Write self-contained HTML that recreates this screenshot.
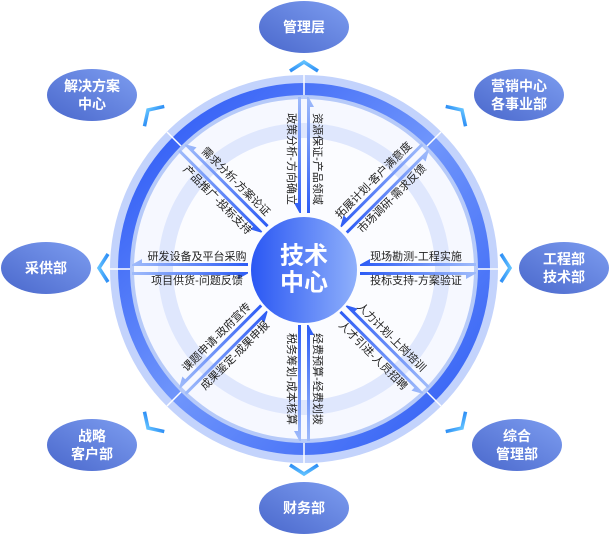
<!DOCTYPE html>
<html><head><meta charset="utf-8"><style>
html,body{margin:0;padding:0;background:#fff;width:610px;height:534px;overflow:hidden}
svg{display:block}
text{font-family:"Liberation Sans","Noto Sans CJK SC",sans-serif}
.t{font-size:11px;fill:#222;text-anchor:middle;dominant-baseline:central}
.n{font-size:14px;font-weight:bold;fill:#fff;text-anchor:middle;dominant-baseline:central}
</style></head><body>
<svg width="610" height="534" viewBox="0 0 610 534" xmlns="http://www.w3.org/2000/svg">
<defs>
<linearGradient id="ring" x1="0" y1="0" x2="1" y2="1"><stop offset="0" stop-color="#2451f5"/><stop offset="0.5" stop-color="#6f95fb"/><stop offset="1" stop-color="#2a58f4"/></linearGradient>
<linearGradient id="cen" x1="0" y1="0" x2="1" y2="0"><stop offset="0" stop-color="#2a57f3"/><stop offset="1" stop-color="#8fb0fb"/></linearGradient>
<linearGradient id="nd" x1="0" y1="1" x2="1" y2="0"><stop offset="0" stop-color="#4a68cc"/><stop offset="1" stop-color="#7d9df0"/></linearGradient>
<linearGradient id="gOut" x1="0" y1="0" x2="1" y2="0"><stop offset="0" stop-color="#2d5cf5"/><stop offset="1" stop-color="#9fbbfb"/></linearGradient>
<linearGradient id="gIn" x1="0" y1="0" x2="1" y2="0"><stop offset="0" stop-color="#2d5cf5"/><stop offset="1" stop-color="#9fbbfb"/></linearGradient>
<linearGradient id="chev" x1="0" y1="0" x2="1" y2="0"><stop offset="0" stop-color="#2e8ef5"/><stop offset="1" stop-color="#5fc0ff"/></linearGradient>
<g id="spoke">
  <polygon points="56,-4.5 66,-10 66,-6 172,-6 172,-3 56,-3" fill="url(#gIn)"/>
  <polygon points="172,4.5 162,10 162,6 56,6 56,3 172,3" fill="url(#gOut)"/>
</g>
<g id="ch"><polyline points="-9,-14 0,0 -9,14" fill="none" stroke="url(#chev)" stroke-width="3.5"/></g>
</defs>
<circle cx="304" cy="269" r="194" fill="#c3d3fc"/>
<circle cx="304" cy="269" r="186" fill="url(#ring)"/>
<circle cx="304" cy="269" r="174" fill="#b6caf9"/>
<circle cx="304" cy="269" r="170" fill="#f6f8ff"/>
<circle cx="304" cy="269" r="146" fill="#dfe7fd"/>
<circle cx="304" cy="269" r="131" fill="#fbfcff"/>
<g stroke="#fff" stroke-width="1.5">
<line x1="304" y1="75" x2="304" y2="95"/><line x1="304" y1="443" x2="304" y2="463"/>
<line x1="110" y1="269" x2="130" y2="269"/><line x1="478" y1="269" x2="498" y2="269"/>
<line x1="167" y1="132" x2="181" y2="146"/><line x1="427" y1="392" x2="441" y2="406"/>
<line x1="441" y1="132" x2="427" y2="146"/><line x1="167" y1="406" x2="181" y2="392"/>
</g>
<g transform="rotate(-90 304 269) translate(304 269)"><use href="#spoke"/>
<text class="t" transform="translate(110,-13) rotate(180)">政策分析-方向确立</text>
<text class="t" transform="translate(110,13) rotate(180)">资源保证-产品领域</text></g>
<g transform="rotate(180 304 269) translate(304 269)"><use href="#spoke"/>
<text class="t" transform="translate(107,-12) rotate(180)">项目供货-问题反馈</text>
<text class="t" transform="translate(107,12) rotate(180)">研发设备及平台采购</text></g>
<g transform="translate(304 269)"><use href="#spoke"/>
<text class="t" transform="translate(112,-12)">现场勘测-工程实施</text>
<text class="t" transform="translate(112,12)">投标支持-方案验证</text></g>
<g transform="rotate(-45 304 269) translate(304 269)"><use href="#spoke"/>
<text class="t" transform="translate(112,-13)">拓展计划-客户满意度</text>
<text class="t" transform="translate(112,13)">市场调研-需求反馈</text></g>
<g transform="rotate(-135 304 269) translate(304 269)"><use href="#spoke"/>
<text class="t" transform="translate(110,-13) rotate(180)">产品推广-投标支持</text>
<text class="t" transform="translate(110,13) rotate(180)">需求分析-方案论证</text></g>
<g transform="rotate(45 304 269) translate(304 269)"><use href="#spoke"/>
<text class="t" transform="translate(110,-13)">人力计划-上岗培训</text>
<text class="t" transform="translate(110,13)">人才引进-人员招聘</text></g>
<g transform="rotate(90 304 269) translate(304 269)"><use href="#spoke"/>
<text class="t" transform="translate(110,-13)">经费预算-经费划拨</text>
<text class="t" transform="translate(110,13)">税务筹划-成本核算</text></g>
<g transform="rotate(135 304 269) translate(304 269)"><use href="#spoke"/>
<text class="t" transform="translate(110,-13) rotate(180)">成果鉴定-成果申报</text>
<text class="t" transform="translate(110,13) rotate(180)">课题申请-政府宣传</text></g>
<circle cx="304" cy="270" r="53" fill="url(#cen)"/>
<text x="304" y="256" style="font-size:24px;font-weight:bold;fill:#fff;text-anchor:middle;dominant-baseline:central">技术</text>
<text x="304" y="283" style="font-size:24px;font-weight:bold;fill:#fff;text-anchor:middle;dominant-baseline:central">中心</text>
<g transform="translate(304 62) rotate(-90)"><use href="#ch"/></g>
<g transform="translate(304 474) rotate(90)"><use href="#ch"/></g>
<g transform="translate(99 268) rotate(180)"><use href="#ch"/></g>
<g transform="translate(510 268)"><use href="#ch"/></g>
<g transform="translate(148 110) rotate(-135)"><use href="#ch"/></g>
<g transform="translate(462 110) rotate(-45)"><use href="#ch"/></g>
<g transform="translate(148 428) rotate(135)"><use href="#ch"/></g>
<g transform="translate(462 428) rotate(45)"><use href="#ch"/></g>
<ellipse cx="304" cy="27" rx="45" ry="26" fill="url(#nd)"/><text class="n" x="304" y="27">管理层</text>
<ellipse cx="92" cy="95" rx="45" ry="26" fill="url(#nd)"/><text class="n" x="92" y="86">解决方案</text><text class="n" x="92" y="104">中心</text>
<ellipse cx="519" cy="95" rx="45" ry="26" fill="url(#nd)"/><text class="n" x="519" y="86">营销中心</text><text class="n" x="519" y="104">各事业部</text>
<ellipse cx="46" cy="268" rx="45" ry="26" fill="url(#nd)"/><text class="n" x="46" y="268">采供部</text>
<ellipse cx="564" cy="268" rx="45" ry="26" fill="url(#nd)"/><text class="n" x="564" y="259">工程部</text><text class="n" x="564" y="277">技术部</text>
<ellipse cx="92" cy="445" rx="45" ry="26" fill="url(#nd)"/><text class="n" x="92" y="436">战略</text><text class="n" x="92" y="454">客户部</text>
<ellipse cx="517" cy="445" rx="45" ry="26" fill="url(#nd)"/><text class="n" x="517" y="436">综合</text><text class="n" x="517" y="454">管理部</text>
<ellipse cx="304" cy="508" rx="45" ry="26" fill="url(#nd)"/><text class="n" x="304" y="508">财务部</text>
</svg>
</body></html>
